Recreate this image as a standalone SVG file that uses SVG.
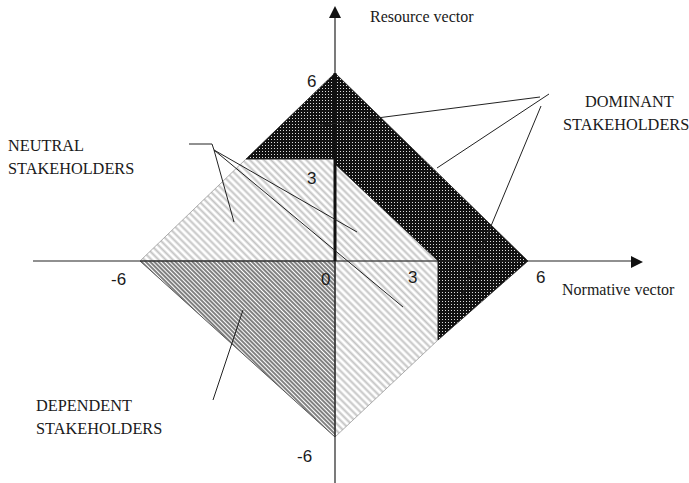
<svg xmlns="http://www.w3.org/2000/svg" width="689" height="483" viewBox="0 0 689 483">
<style>
.lbl{font-family:"Liberation Serif","Times New Roman",serif;font-size:16.3px;fill:#1a1a1a}
.ax{font-family:"Liberation Serif","Times New Roman",serif;font-size:16px;fill:#1a1a1a}
.num{font-family:"Liberation Sans",Arial,sans-serif;font-size:17px;fill:#1a1a1a}
.lead{stroke:#222;stroke-width:1;fill:none}
.axis{stroke:#222;stroke-width:1.2;fill:none}
</style>
<defs>
<pattern id="light" patternUnits="userSpaceOnUse" width="10" height="5" patternTransform="rotate(45)">
<rect width="10" height="5" fill="#fff"/>
<line x1="0" y1="1.5" x2="10" y2="1.5" stroke="#c4c4c4" stroke-width="2"/>
</pattern>
<pattern id="dense" patternUnits="userSpaceOnUse" width="10" height="3" patternTransform="rotate(45)">
<rect width="10" height="3" fill="#fff"/>
<line x1="0" y1="1" x2="10" y2="1" stroke="#1a1a1a" stroke-width="1.1"/>
</pattern>
<pattern id="dots" patternUnits="userSpaceOnUse" width="3" height="3">
<rect width="3" height="3" fill="#111"/>
<rect x="1" y="1" width="1" height="1" fill="#ddd"/>
</pattern>
</defs>
<g id="neutral-region">
<polygon points="246,159 335,159 335,261 140,261" fill="url(#light)" stroke="#999" stroke-width="0.8"/>
<polygon points="335,164 437,261 335,261" fill="url(#light)"/>
<polygon points="335,261 438,261 438,340 335,437" fill="url(#light)" stroke="#999" stroke-width="0.8"/>
</g>
<g id="dependent-region">
<polygon points="140,261 335,261 335,437" fill="url(#dense)" stroke="#555" stroke-width="1"/>
</g>
<g id="dominant-region">
<polygon points="335,73 528,261 438,340 438,261 335,164 335,159 246,159" fill="url(#dots)" stroke="#222" stroke-width="0.8"/>
</g>
<g id="axes">
<line class="axis" x1="33" y1="261" x2="633" y2="261"/>
<polygon points="643,262 631,256 631,268" fill="#111"/>
<line class="axis" x1="335" y1="16" x2="335" y2="483"/>
<polygon points="335,6 329,18 341,18" fill="#111"/>
<line x1="335" y1="73" x2="335" y2="261" stroke="#111" stroke-width="3"/>
<text class="ax" x="370" y="22">Resource vector</text>
<text class="ax" x="562" y="295">Normative vector</text>
<text class="num" x="307" y="87">6</text>
<text class="num" x="307" y="184">3</text>
<text class="num" x="111" y="285">-6</text>
<text class="num" x="321" y="285">0</text>
<text class="num" x="408" y="283">3</text>
<text class="num" x="536" y="283">6</text>
<text class="num" x="297" y="462">-6</text>
</g>
<g id="connectors">
<polyline class="lead" points="189,144 212,144 214,150"/>
<line class="lead" x1="214" y1="150" x2="234" y2="222"/>
<line class="lead" x1="214" y1="150" x2="357" y2="232"/>
<line class="lead" x1="214" y1="150" x2="403" y2="307"/>
<line class="lead" x1="540" y1="97" x2="315" y2="126"/>
<line class="lead" x1="549" y1="94" x2="437" y2="168"/>
<line class="lead" x1="541" y1="106" x2="461" y2="298"/>
<line class="lead" x1="213" y1="400" x2="243" y2="310"/>
</g>
<g id="label-neutral">
<text class="lbl" x="8" y="151">NEUTRAL</text>
<text class="lbl" x="8" y="174">STAKEHOLDERS</text>
</g>
<g id="label-dominant">
<text class="lbl" x="585" y="107">DOMINANT</text>
<text class="lbl" x="563" y="130">STAKEHOLDERS</text>
</g>
<g id="label-dependent">
<text class="lbl" x="36" y="411">DEPENDENT</text>
<text class="lbl" x="36" y="434">STAKEHOLDERS</text>
</g>
</svg>
